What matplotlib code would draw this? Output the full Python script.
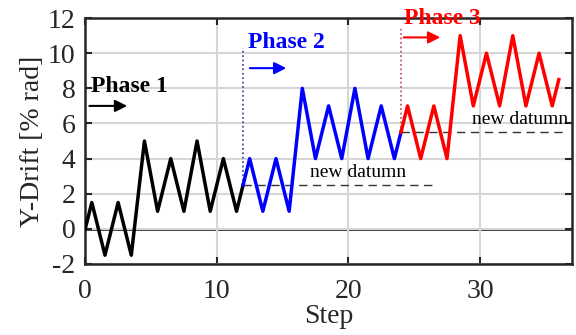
import matplotlib
matplotlib.use("Agg")
from matplotlib import pyplot as plt

# phase 1 (black)
steps_p1 = [0, 0.5, 1.5, 2.5, 3.5, 4.5, 5.5, 6.5, 7.5, 8.5, 9.5, 10.5, 11.5, 12]
drift_p1 = [0, 1.5, -1.5, 1.5, -1.5, 5, 1, 4, 1, 5, 1, 4, 1, 2.5]

# phase 2 (blue)
steps_p2 = [12, 12.5, 13.5, 14.5, 15.5, 16.5, 17.5, 18.5, 19.5, 20.5, 21.5, 22.5, 23.5, 24]
drift_p2 = [2.5, 4, 1, 4, 1, 8, 4, 7, 4, 8, 4, 7, 4, 5.5]

# phase 3 (red)
steps_p3 = [24, 24.5, 25.5, 26.5, 27.5, 28.5, 29.5, 30.5, 31.5, 32.5, 33.5, 34.5, 35.5, 36]
drift_p3 = [5.5, 7, 4, 7, 4, 11, 7, 10, 7, 11, 7, 10, 7, 8.5]

# datum lines: (start step, end step, level)
datum1 = (12, 26.4, 2.5)
datum2 = (24, 36.3, 5.5)

plt.rcParams['font.family'] = ['Liberation Serif', 'DejaVu Serif']
plt.rcParams['axes.unicode_minus'] = False

fig = plt.figure(figsize=(5.76, 3.35), dpi=100)
ax = fig.add_axes([0.148, 0.212, 0.845, 0.734])

ax.grid(True, color='#d6d6d6', linewidth=1.5, zorder=0)
ax.axhline(0, color='black', linewidth=1.8, zorder=1)

ax.plot(steps_p1, drift_p1, color='black', linewidth=2.5, zorder=3)
ax.plot(steps_p2, drift_p2, color='blue', linewidth=2.5, zorder=3)
ax.plot(steps_p3, drift_p3, color='red', linewidth=2.5, zorder=3)

ax.plot([datum1[0], datum1[1]], [datum1[2], datum1[2]], color='#333333',
        linestyle=(0, (6, 4)), linewidth=1.0, zorder=2)
ax.plot([datum2[0], datum2[1]], [datum2[2], datum2[2]], color='#333333',
        linestyle=(0, (6, 4)), linewidth=1.0, zorder=2)
ax.text(17.1, 2.75, 'new datumn', fontsize=14, ha='left', va='bottom')
ax.text(29.4, 5.75, 'new datumn', fontsize=14, ha='left', va='bottom')

# phase start markers
ax.plot([12, 12], [2.5, 10.3], color='#3030a0', linestyle=':', linewidth=1.2)
ax.plot([24, 24], [5.5, 11.4], color='#c04060', linestyle=':', linewidth=1.2)

ax.annotate('', xy=(3.4, 7.0), xytext=(0.1, 7.0),
            arrowprops=dict(arrowstyle='-|>', color='black', lw=1.5, mutation_scale=18))
ax.annotate('', xy=(15.5, 9.15), xytext=(12.3, 9.15),
            arrowprops=dict(arrowstyle='-|>', color='blue', lw=1.5, mutation_scale=18))
ax.annotate('', xy=(27.2, 10.9), xytext=(24.0, 10.9),
            arrowprops=dict(arrowstyle='-|>', color='red', lw=1.5, mutation_scale=18))

ax.text(0.45, 8.1, 'Phase 1', color='black', fontsize=17, fontweight='bold', va='center')
ax.text(12.4, 10.6, 'Phase 2', color='blue', fontsize=17, fontweight='bold', va='center')
ax.text(24.2, 12.0, 'Phase 3', color='red', fontsize=17, fontweight='bold', va='center',
        clip_on=False)

ax.set_xlim(0, 37)
ax.set_ylim(-2, 12)
ax.set_xticks([0, 10, 20, 30])
ax.set_yticks(range(-2, 13, 2))
ax.tick_params(direction='in', top=True, right=True, length=5, width=1.5,
               labelsize=20, colors='#262626')
ax.tick_params(axis='x', pad=11)
ax.tick_params(axis='y', pad=7)
for s in ax.spines.values():
    s.set_linewidth(1.8)
    s.set_color('#262626')

ax.set_xlabel('Step', fontsize=20, color='#262626', labelpad=0)
ax.set_ylabel('Y-Drift [% rad]', fontsize=20, color='#262626', labelpad=2)

fig.savefig('out.png', dpi=100)
